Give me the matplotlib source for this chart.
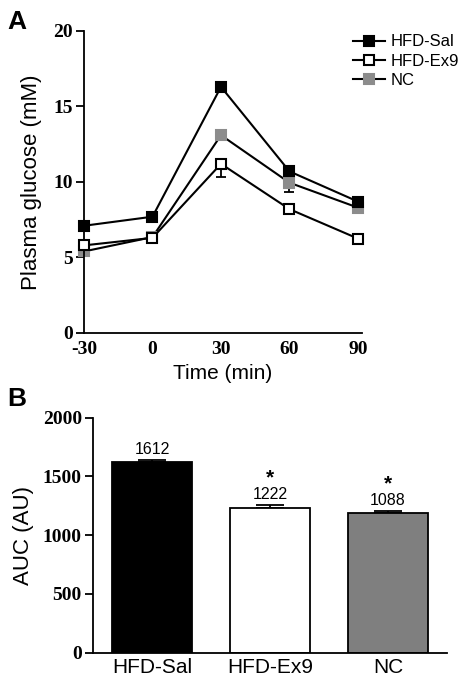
import matplotlib
matplotlib.use("Agg")
import matplotlib.pyplot as plt

plt.rcParams["axes.unicode_minus"] = False

# Panel A data: plasma glucose (mM) over time
time = [-30, 0, 30, 60, 90]
hfd_sal = [7.1, 7.7, 16.3, 10.7, 8.7]
hfd_ex9 = [5.8, 6.3, 11.2, 8.2, 6.25]
nc = [5.4, 6.35, 13.1, 9.95, 8.3]
hfd_sal_err = [0.2, 0.2, 0.3, 0.2, 0.2]
hfd_ex9_err = [0.2, 0.1, 0.9, 0.35, 0.1]
nc_err = [0.2, 0.1, 0.3, 0.6, 0.3]

# Panel B data: AUC
groups = ["HFD-Sal", "HFD-Ex9", "NC"]
auc = [1620, 1228, 1190]
auc_err = [20, 28, 15]
auc_labels = ["1612", "1222", "1088"]
auc_stars = ["", "*", "*"]
bar_colors = ["black", "white", "#7f7f7f"]

sans = "Liberation Sans"
serif = "Liberation Serif"

fig = plt.figure(figsize=(4.63, 6.85), dpi=100)

# ---- Panel A ----
ax1 = fig.add_axes([0.1814, 0.5139, 0.6004, 0.4409])
series = [
    (nc, nc_err, "#8c8c8c", "#8c8c8c", "NC", 2),
    (hfd_ex9, hfd_ex9_err, "white", "black", "HFD-Ex9", 3),
    (hfd_sal, hfd_sal_err, "black", "black", "HFD-Sal", 4),
]
handles = {}
for y, e, fc, ec, lab, z in series:
    ax1.errorbar(time, y, yerr=[e, [0] * len(e)], fmt="none", ecolor="black",
                 elinewidth=1.3, capsize=3.5, capthick=1.3, zorder=z, clip_on=False)
    ln, = ax1.plot(time, y, color="black", lw=1.5, marker="s", ms=7.5,
                   mfc=fc, mec=ec, mew=1.5, zorder=z, clip_on=False, label=lab)
    handles[lab] = ln

ax1.set_xlim(-30, 91.75)
ax1.set_ylim(0, 20)
ax1.set_xticks(time)
ax1.set_yticks([0, 5, 10, 15, 20])
ax1.spines["top"].set_visible(False)
ax1.spines["right"].set_visible(False)
ax1.spines["left"].set_linewidth(1.3)
ax1.spines["bottom"].set_linewidth(1.3)
ax1.tick_params(axis="x", length=0, pad=6)
ax1.tick_params(axis="y", length=6, width=1.3, direction="out", pad=2)
for t in ax1.get_xticklabels() + ax1.get_yticklabels():
    t.set_fontfamily(serif)
    t.set_fontweight("bold")
    t.set_fontsize(14)
ax1.set_xlabel("Time (min)", fontfamily=sans, fontsize=15, labelpad=4)
ax1.set_ylabel("Plasma glucose (mM)", fontfamily=sans, fontsize=16, labelpad=8)
ax1.legend([handles["HFD-Sal"], handles["HFD-Ex9"], handles["NC"]],
           ["HFD-Sal", "HFD-Ex9", "NC"], loc="upper left",
           bbox_to_anchor=(0.745, 0.962), bbox_transform=fig.transFigure,
           frameon=False, prop={"family": sans, "size": 12},
           handlelength=1.9, handletextpad=0.35, labelspacing=0.25, borderpad=0)
fig.text(0.015, 0.985, "A", fontfamily=sans, fontweight="bold", fontsize=19, va="top")

# ---- Panel B ----
ax2 = fig.add_axes([0.2009, 0.0472, 0.7646, 0.3431])
x = range(len(groups))
ax2.bar(x, auc, width=0.67, color=bar_colors, edgecolor="black", linewidth=1.3, zorder=2)
ax2.errorbar(x, auc, yerr=[[0] * 3, auc_err], fmt="none", ecolor="black",
             elinewidth=1.3, capsize=10, capthick=1.3, zorder=1)
for i in x:
    top = auc[i] + auc_err[i]
    ax2.text(i, top + 25, auc_labels[i], ha="center", va="bottom",
             fontfamily=sans, fontsize=11.5)
    if auc_stars[i]:
        ax2.text(i, top + 150, auc_stars[i], ha="center", va="bottom",
                 fontfamily=sans, fontweight="bold", fontsize=15)
ax2.set_xlim(-0.5, 2.5)
ax2.set_ylim(0, 2000)
ax2.set_xticks(list(x))
ax2.set_xticklabels(groups, fontfamily=sans, fontsize=15)
ax2.set_yticks([0, 500, 1000, 1500, 2000])
ax2.spines["top"].set_visible(False)
ax2.spines["right"].set_visible(False)
ax2.spines["left"].set_linewidth(1.3)
ax2.spines["bottom"].set_linewidth(1.3)
ax2.tick_params(axis="x", length=0, pad=4)
ax2.tick_params(axis="y", length=6, width=1.3, direction="out", pad=2)
for t in ax2.get_yticklabels():
    t.set_fontfamily(serif)
    t.set_fontweight("bold")
    t.set_fontsize(14)
ax2.set_ylabel("AUC (AU)", fontfamily=sans, fontsize=16, labelpad=6)
fig.text(0.015, 0.435, "B", fontfamily=sans, fontweight="bold", fontsize=19, va="top")

fig.savefig("out.png", dpi=100)
